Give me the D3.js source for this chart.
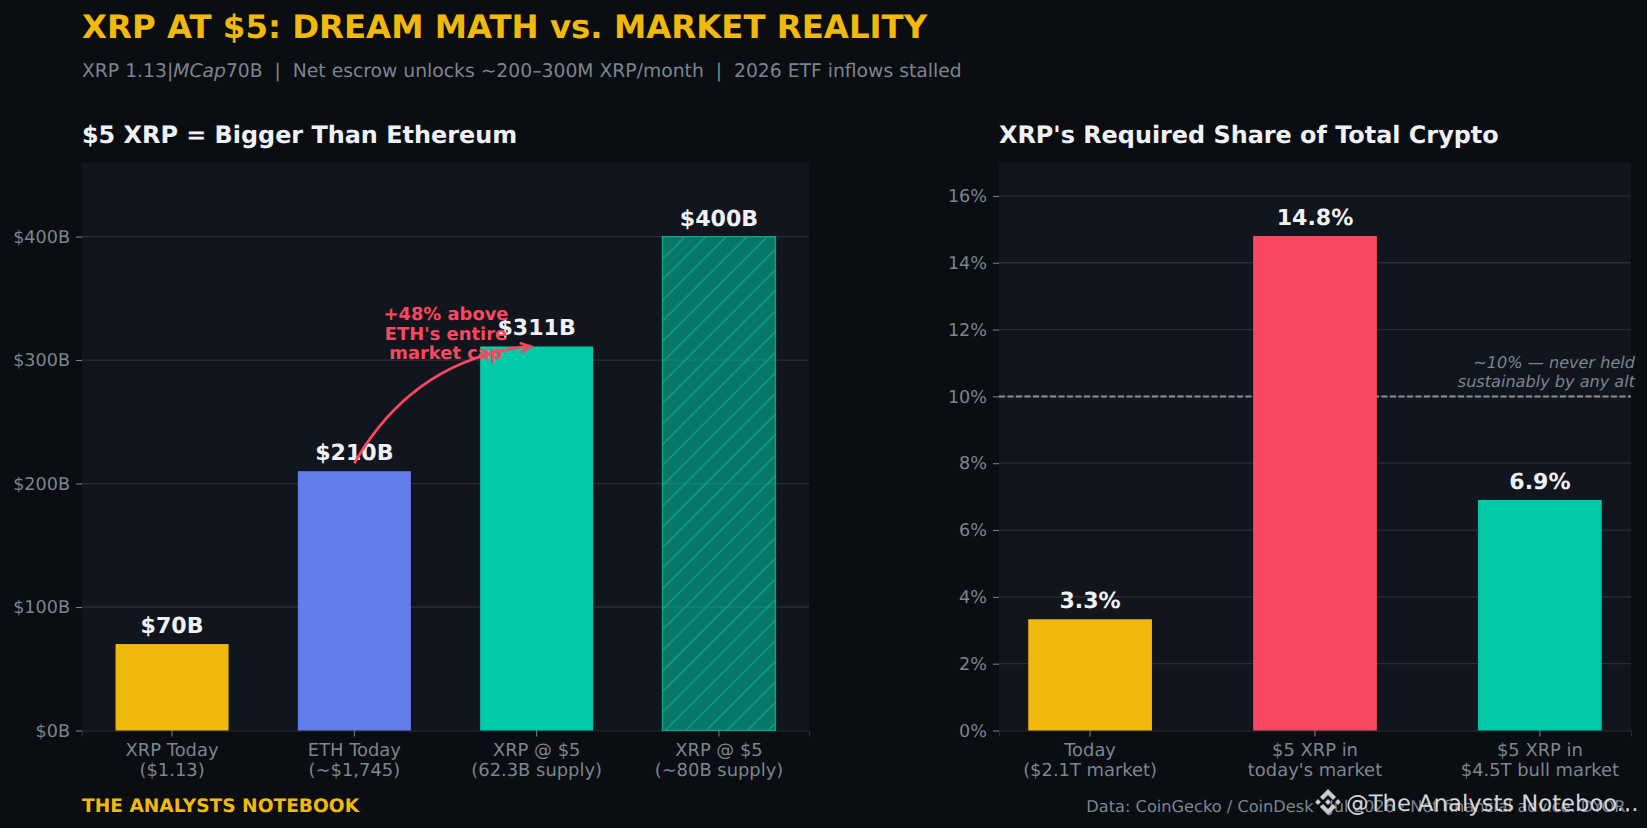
<!DOCTYPE html>
<html>
<head>
<meta charset="utf-8">
<script src="https://cdn.jsdelivr.net/npm/d3@7"></script>
<style>
  html, body { margin: 0; background: #0a0d11; overflow: hidden; }
  text { font-family: "DejaVu Sans", sans-serif; white-space: pre; text-rendering: geometricPrecision; }
</style>
</head>
<body>
<svg id="chart" width="1647" height="828"></svg>
<script>
const capLabels = ["XRP Today\n($1.13)", "ETH Today\n(~$1,745)", "XRP @ $5\n(62.3B supply)", "XRP @ $5\n(~80B supply)"];
const capValues = [70, 210, 311, 400];
const capTicks = [0, 100, 200, 300, 400];
const capColors = ["#f0b90b", "#627eea", "#00c9a7", "#00c9a7"];

const shareLabels = ["Today\n($2.1T market)", "$5 XRP in\ntoday's market", "$5 XRP in\n$4.5T bull market"];
const shareValues = [3.33, 14.8, 6.9];
const shareTicks = [0, 2, 4, 6, 8, 10, 12, 14, 16];
const shareColors = ["#f0b90b", "#f9485f", "#00c9a7"];
const shareRef = 10;

const BG = "#0a0d11", PANEL = "#11151d", GRID = "#2a2e36", MUTED = "#7d8590", WHITE = "#eff1f5";
const GOLD = "#f0b90b", RED = "#f9485f";

const svg = d3.select("#chart");
svg.append("rect").attr("width", 1647).attr("height", 828).attr("fill", BG);

// diagonal hatch for the ~80B bar
const hatch = svg.append("defs").append("pattern")
  .attr("id", "hatch").attr("patternUnits", "userSpaceOnUse")
  .attr("width", 20.6).attr("height", 20.6)
  .attr("patternTransform", "translate(0,15.3)");
hatch.append("path").attr("d", "M-2,2 L2,-2 M0,20.6 L20.6,0 M18.6,22.6 L22.6,18.6")
  .attr("stroke", "#0fa487").attr("stroke-width", 1.3);

function panel(cfg) {
  const { left, right, top, bottom } = cfg;
  const g = svg.append("g");
  g.append("rect").attr("x", left).attr("y", top).attr("width", right - left).attr("height", bottom - top).attr("fill", PANEL);

  const x = d3.scaleBand().domain(cfg.labels).range([left, right])
    .paddingInner(cfg.padInner).paddingOuter(cfg.padOuter);
  const y = d3.scaleLinear().domain(cfg.domain).range([bottom, top]);

  // grid
  g.append("g").selectAll("line").data(cfg.ticks.filter(d => d > 0)).join("line")
    .attr("x1", left).attr("x2", right)
    .attr("y1", d => y(d)).attr("y2", d => y(d))
    .attr("stroke", GRID).attr("stroke-width", 1.3);

  // y axis
  const yAxis = g.append("g").attr("transform", `translate(${left},0)`)
    .call(d3.axisLeft(y).tickValues(cfg.ticks).tickFormat(cfg.fmt).tickSize(6).tickPadding(6));
  yAxis.select(".domain").remove();
  yAxis.selectAll("line").attr("stroke", MUTED).attr("stroke-width", 1);
  yAxis.selectAll("text").attr("fill", MUTED).attr("font-size", 17.6).attr("font-family", "DejaVu Sans");

  // x axis
  const xAxis = g.append("g").attr("transform", `translate(0,${bottom})`)
    .call(d3.axisBottom(x).tickSize(6).tickFormat(""));
  xAxis.select(".domain").attr("stroke", GRID).attr("stroke-width", 1);
  xAxis.selectAll("line").attr("stroke", MUTED).attr("stroke-width", 1);
  xAxis.selectAll("g.tick").each(function (d) {
    const t = d3.select(this).select("text").attr("fill", MUTED).attr("font-size", 17.9)
      .attr("font-family", "DejaVu Sans").attr("y", 0).attr("dy", 0);
    t.text(null);
    d.split("\n").forEach((s, i) => {
      t.append("tspan").attr("x", 0).attr("y", 25.5 + i * 20.2).text(s);
    });
  });

  // reference line goes behind the bars
  if (cfg.refLine !== undefined) {
    g.append("line")
      .attr("x1", left).attr("x2", right)
      .attr("y1", y(cfg.refLine)).attr("y2", y(cfg.refLine))
      .attr("stroke", "#8b9098").attr("stroke-width", 2).attr("stroke-dasharray", "6,2.5");
  }

  // bars
  g.append("g").selectAll("rect").data(cfg.values).join("rect")
    .attr("x", (d, i) => x(cfg.labels[i]))
    .attr("width", x.bandwidth())
    .attr("y", d => y(d))
    .attr("height", d => bottom - y(d))
    .attr("fill", (d, i) => cfg.colors[i])
    .attr("fill-opacity", (d, i) => cfg.faded === i ? 0.55 : 1);

  if (cfg.faded !== undefined) {
    const i = cfg.faded, v = cfg.values[i];
    g.append("rect")
      .attr("x", x(cfg.labels[i])).attr("width", x.bandwidth())
      .attr("y", y(v)).attr("height", bottom - y(v))
      .attr("fill", "url(#hatch)").attr("stroke", "#0fa487").attr("stroke-width", 1.3);
  }

  // value labels
  g.append("g").selectAll("text").data(cfg.values).join("text")
    .attr("x", (d, i) => x(cfg.labels[i]) + x.bandwidth() / 2)
    .attr("y", d => y(d) - cfg.labelGap)
    .attr("text-anchor", "middle")
    .attr("font-size", 22.1).attr("font-weight", "bold").attr("fill", WHITE)
    .text(cfg.labelFmt);

  // panel title
  g.append("text").attr("x", left).attr("y", 143)
    .attr("font-size", 23.9).attr("font-weight", "bold").attr("fill", WHITE).text(cfg.title);

  return { x, y, g };
}

const cap = panel({
  left: 82, right: 809, top: 162.5, bottom: 730.5,
  labels: capLabels, values: capValues, colors: capColors, ticks: capTicks,
  domain: [0, 460], padInner: 0.38, padOuter: 0.184, faded: 3, labelGap: 11,
  fmt: d => `$${d}B`, labelFmt: d => `$${d}B`,
  title: "$5 XRP = Bigger Than Ethereum"
});

const share = panel({
  left: 999, right: 1631, top: 162.5, bottom: 730.5,
  labels: shareLabels, values: shareValues, colors: shareColors, ticks: shareTicks,
  domain: [0, 17], padInner: 0.45, padOuter: 0.13, labelGap: 11, refLine: shareRef,
  fmt: d => `${d}%`, labelFmt: d => `${d.toFixed(1)}%`,
  title: "XRP's Required Share of Total Crypto"
});

// +48% annotation: arrow from the ETH bar to the $5 XRP bar
const ax0 = cap.x(capLabels[1]) + cap.x.bandwidth() / 2, ay0 = cap.y(capValues[1]) - 8;
const ax1 = cap.x(capLabels[2]) + cap.x.bandwidth() / 2 - 6, ay1 = cap.y(capValues[2]);
const cpx = (ax0 + ax1) / 2 - 29, cpy = (ay0 + ay1) / 2 - 45;
cap.g.append("path")
  .attr("d", `M${ax0},${ay0} Q${cpx},${cpy} ${ax1 - 3},${ay1}`)
  .attr("fill", "none").attr("stroke", RED).attr("stroke-width", 2.8);
cap.g.append("path")
  .attr("d", `M${ax1 - 11},${ay1 - 3.5} L${ax1},${ay1} L${ax1 - 9},${ay1 + 6}`)
  .attr("fill", "none").attr("stroke", RED).attr("stroke-width", 2.8);
["+48% above", "ETH's entire", "market cap"].forEach((s, i) => {
  cap.g.append("text").attr("x", 446).attr("y", 320 + i * 19.5)
    .attr("text-anchor", "middle").attr("font-size", 17.9).attr("font-weight", "bold")
    .attr("fill", RED).text(s);
});

["~10% — never held", "sustainably by any alt"].forEach((s, i) => {
  share.g.append("text").attr("x", 1635).attr("y", 368 + i * 18.5)
    .attr("text-anchor", "end").attr("font-size", 16.1).attr("font-style", "italic")
    .attr("fill", MUTED).text(s);
});

// headline
svg.append("text").attr("x", 82).attr("y", 38).attr("font-size", 32.4).attr("font-weight", "bold")
  .attr("fill", GOLD).text("XRP AT $5: DREAM MATH vs. MARKET REALITY");
const sub = svg.append("text").attr("x", 82).attr("y", 77).attr("font-size", 18.76).attr("fill", MUTED);
sub.append("tspan").text("XRP 1.13|");
sub.append("tspan").attr("font-style", "italic").text("MCap");
sub.append("tspan").text("70B  |  Net escrow unlocks ~200–300M XRP/month  |  2026 ETF inflows stalled");

// footer
svg.append("text").attr("x", 82).attr("y", 812).attr("font-size", 18.6).attr("font-weight", "bold")
  .attr("fill", GOLD).text("THE ANALYSTS NOTEBOOK");
svg.append("text").attr("x", 1630).attr("y", 812).attr("text-anchor", "end").attr("font-size", 16.2)
  .attr("fill", MUTED).text("Data: CoinGecko / CoinDesk · Jul 2026 · Not financial advice. DYOR.");

// watermark
const mark = svg.append("g").attr("transform", "translate(1328,802)").attr("fill", "#c9cbce");
mark.append("path").attr("d", "M0,-13 L8,-5 L5,-2 L0,-7 L-5,-2 L-8,-5 Z");
mark.append("path").attr("d", "M0,13 L8,5 L5,2 L0,7 L-5,2 L-8,5 Z");
[[-10, 0], [10, 0], [0, 0]].forEach(([dx, dy]) => {
  mark.append("path").attr("d", `M${dx - 2.9},${dy} L${dx},${dy - 2.9} L${dx + 2.9},${dy} L${dx},${dy + 2.9} Z`);
});
svg.append("text").attr("x", 1346).attr("y", 811).attr("font-size", 22.7).attr("fill", "#d4d6d9")
  .text("@The Analysts Noteboo...");
</script>
</body>
</html>
